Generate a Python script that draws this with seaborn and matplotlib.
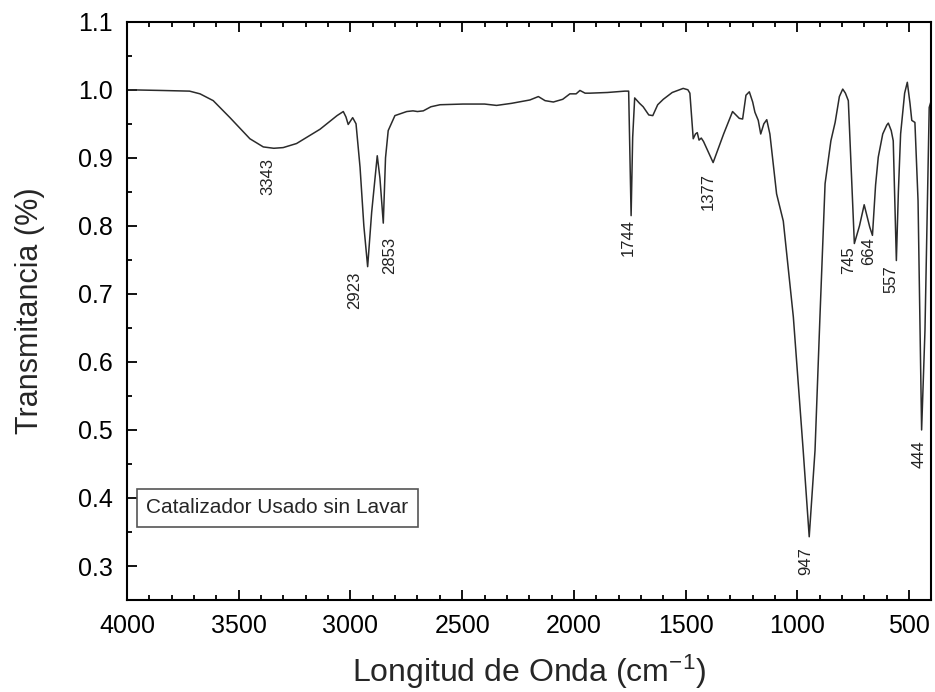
"""
FTIR spectrum - Catalizador Usado sin Lavar
"""

import matplotlib
matplotlib.use('Agg')
import matplotlib.pyplot as plt
from matplotlib.ticker import MultipleLocator
import seaborn as sns
import pandas as pd


# ──────────────────────── Data ───────────────

wavenumber = [
    4000, 3850, 3720, 3673, 3614, 3539, 3450, 3390, 3343, 3301, 3241, 3136,
    3060, 3032, 3020, 3010, 2990, 2975, 2957, 2940, 2923, 2905, 2880, 2868,
    2853, 2843, 2831, 2801, 2748, 2720, 2700, 2674, 2640, 2599, 2496, 2400,
    2346, 2280, 2197, 2159, 2129, 2092, 2050, 2018, 1990, 1973, 1950, 1928,
    1850, 1772, 1755, 1744, 1737, 1728, 1706, 1690, 1665, 1647, 1625, 1600,
    1560, 1511, 1490, 1481, 1466, 1456, 1448, 1440, 1430, 1420, 1377, 1330,
    1290, 1260, 1245, 1230, 1215, 1200, 1190, 1175, 1164, 1150, 1137, 1123,
    1093, 1063, 1018, 974, 947, 921, 899, 876, 850, 831, 812, 797, 785, 772,
    745, 722, 701, 676, 664, 650, 638, 618, 600, 593, 580, 571, 557, 548,
    538, 520, 508, 496, 488, 474, 460, 444, 429, 410, 400,
]
transmittance = [
    1.000, 0.999, 0.998, 0.994, 0.984, 0.959, 0.928, 0.916, 0.914, 0.915, 0.921, 0.942,
    0.962, 0.968, 0.960, 0.949, 0.959, 0.950, 0.886, 0.800, 0.740, 0.820, 0.903, 0.870,
    0.804, 0.900, 0.940, 0.962, 0.968, 0.969, 0.968, 0.969, 0.975, 0.978, 0.979, 0.979,
    0.977, 0.980, 0.985, 0.990, 0.984, 0.982, 0.986, 0.994, 0.994, 0.999, 0.995, 0.995,
    0.996, 0.998, 0.998, 0.815, 0.930, 0.988, 0.980, 0.975, 0.963, 0.962, 0.978, 0.986,
    0.996, 1.002, 1.000, 0.995, 0.928, 0.935, 0.937, 0.926, 0.929, 0.924, 0.893, 0.935,
    0.968, 0.958, 0.957, 0.992, 0.997, 0.982, 0.967, 0.955, 0.935, 0.950, 0.956, 0.935,
    0.847, 0.807, 0.666, 0.470, 0.343, 0.470, 0.666, 0.862, 0.925, 0.952, 0.990, 1.001, 0.995, 0.984,
    0.774, 0.800, 0.831, 0.798, 0.786, 0.860, 0.901, 0.935, 0.948, 0.951, 0.940, 0.925, 0.749, 0.850,
    0.935, 0.995, 1.011, 0.980, 0.955, 0.952, 0.837, 0.500, 0.646, 0.974, 0.985,
]

peak_labels = [3343, 2923, 2853, 1744, 1377, 947, 745, 664, 557, 444]
# label offset from the band minimum, in pixels (dx, dy)
peak_offsets = [(-6, -10), (-13, -5), (6, -14), (-3, -3), (-5, -10),
                (-3, -10), (-6, -3), (-4, -2), (-5, -5), (-2, -10)]

sample_name = 'Catalizador Usado sin Lavar'


# ──────────────────────── Style ──────────────────────────────────────

sns.set_theme(style='ticks')
plt.rcParams['font.family'] = ['Liberation Sans', 'DejaVu Sans']
plt.rcParams['mathtext.default'] = 'regular'

df = pd.DataFrame({'wn': wavenumber, 't': transmittance})

fig = plt.figure(figsize=(9.35, 6.92), dpi=100)
ax = fig.add_axes([0.1358, 0.1329, 0.8604, 0.8357])

sns.lineplot(data=df, x='wn', y='t', ax=ax, color='#2b2b2b', lw=1.1,
             estimator=None, sort=False, label=sample_name)

ax.set_xlim(4000, 400)
ax.set_ylim(0.25, 1.1)
ax.xaxis.set_major_locator(MultipleLocator(500))
ax.xaxis.set_minor_locator(MultipleLocator(100))
ax.yaxis.set_major_locator(MultipleLocator(0.1))
ax.yaxis.set_minor_locator(MultipleLocator(0.05))
ax.yaxis.set_major_formatter(plt.FormatStrFormatter('%.1f'))

ax.tick_params(which='both', direction='in', top=True, right=False,
               width=1.3, colors='black')
ax.tick_params(which='major', length=7, pad=10, labelsize=18)
ax.tick_params(which='minor', length=3.5)
for s in ax.spines.values():
    s.set_linewidth(1.5)
    s.set_color('black')

ax.set_xlabel('Longitud de Onda (cm$^{-1}$)', fontsize=23, labelpad=11)
ax.set_ylabel('Transmitancia (%)', fontsize=22, labelpad=24)

# peak annotations
lookup = dict(zip(wavenumber, transmittance))
for wn, (dx, dy) in zip(peak_labels, peak_offsets):
    ax.annotate(str(wn), xy=(wn, lookup[wn]), xytext=(dx, dy),
                textcoords='offset pixels', rotation=90,
                ha='center', va='top', fontsize=12, color='#222222')

leg = ax.legend(loc='lower left', bbox_to_anchor=(0.0124, 0.127),
                borderaxespad=0, handlelength=0, handletextpad=0,
                fancybox=False, edgecolor='#555555', framealpha=1,
                borderpad=0.45, fontsize=15)
leg.get_frame().set_linewidth(1.2)
for h in leg.legend_handles:
    h.set_visible(False)

plt.savefig('out.png', dpi=100)
plt.close()
